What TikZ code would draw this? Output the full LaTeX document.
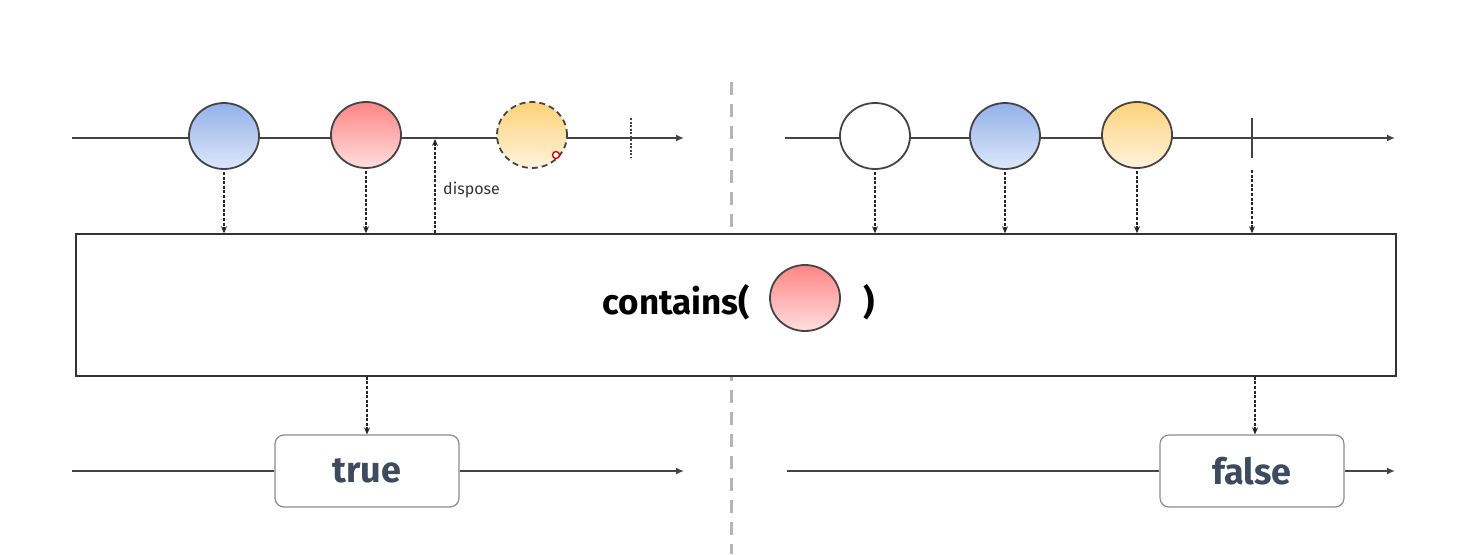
\documentclass[tikz,border=0pt]{standalone}
\usepackage{fontspec}
\setmainfont{Fira Sans}
\usetikzlibrary{shapes.geometric,arrows.meta,calc}
\definecolor{lnc}{HTML}{444444}
\definecolor{blueT}{HTML}{93B1EA}
\definecolor{blueB}{HTML}{DDE7FA}
\definecolor{redT}{HTML}{FF8585}
\definecolor{redB}{HTML}{FFDEDE}
\definecolor{yelT}{HTML}{FFD27A}
\definecolor{yelB}{HTML}{FFF2DC}
\definecolor{txtc}{HTML}{3E4A5E}
\definecolor{divc}{HTML}{B4B4B4}
\tikzset{
  tl/.style={line width=2pt, draw=lnc},
  tla/.style={tl, -{Latex[length=8pt,width=7pt]}},
  marble/.style={ellipse, minimum width=70pt, minimum height=66pt, draw=lnc, line width=1.8pt},
  mblue/.style={marble, top color=blueT, bottom color=blueB},
  mred/.style={marble, top color=redT, bottom color=redB},
  myel/.style={marble, top color=yelT, bottom color=yelB},
  mwhite/.style={marble, fill=white},
  darr/.style={draw=black!85, line width=1.2pt, dash pattern=on 3pt off 1.6pt, -{Stealth[length=7pt,width=6pt]}},
  resbox/.style={draw=black!45, line width=1.2pt, rounded corners=9pt, fill=white, minimum width=184pt, minimum height=72pt, inner sep=0pt, font=\fontsize{36}{40}\selectfont\bfseries, text=txtc},
}
\begin{document}
\begin{tikzpicture}[x=1pt,y=-1pt]
\useasboundingbox (0,0) rectangle (1471,554);
% divider
\coordinate (dv1) at (731,82);
\coordinate (dv2) at (731,554);
\draw[divc, line width=3pt, dash pattern=on 13pt off 9pt] (dv1) -- (dv2);
% big box
\node[draw=black!80, line width=1.5pt, fill=white, minimum width=1320pt, minimum height=142pt, inner sep=0pt] (box) at (736,305) {};
\node[font=\fontsize{35}{40}\selectfont\bfseries, anchor=east, inner sep=0pt] (ctxt) at (750,302) {contains(};
\node[mred] (cr) at (805,298) {};
\node[font=\fontsize{35}{40}\selectfont\bfseries, inner sep=0pt] (cpar) at (869,302) {)};
% top-left timeline
\coordinate (l1s) at (72,138);
\coordinate (l1e) at (684,138);
\draw[tla] (l1s) -- (l1e);
\node[mblue] (a1) at (224,136) {};
\node[mred] (a2) at (366,135) {};
\node[marble, top color=yelT, bottom color=yelB, dashed, dash pattern=on 6pt off 4pt] (a3) at (532,135) {};
\node[circle, draw=red!85!black, line width=1.4pt, minimum size=7pt, inner sep=0pt, fill=white] (cur) at (556,155) {};
\coordinate (tk1) at (631,118);
\coordinate (tk2) at (631,158);
\draw[lnc, line width=1.3pt, dash pattern=on 2pt off 1.5pt] (tk1) -- (tk2);
\draw[darr] ([yshift=-2pt]a1.south) -- (a1.south |- box.north);
\draw[darr] ([yshift=-2pt]a2.south) -- (a2.south |- box.north);
\coordinate (dsp) at (435,233);
\coordinate (dspt) at (435,139);
\draw[darr] (dsp) -- (dspt);
\node[font=\fontsize{16}{18}\selectfont, text=black!80, anchor=west, inner sep=0pt] (dtxt) at (443,190) {dispose};
% top-right timeline
\coordinate (r1s) at (785,138);
\coordinate (r1e) at (1395,138);
\draw[tla] (r1s) -- (r1e);
\node[mwhite] (b1) at (875,136) {};
\node[mblue] (b2) at (1005,136) {};
\node[myel] (b3) at (1137,135) {};
\coordinate (ct1) at (1252,118);
\coordinate (ct2) at (1252,158);
\draw[lnc, line width=2pt] (ct1) -- (ct2);
\draw[darr] ([yshift=-2pt]b1.south) -- (b1.south |- box.north);
\draw[darr] ([yshift=-2pt]b2.south) -- (b2.south |- box.north);
\draw[darr] ([yshift=-2pt]b3.south) -- (b3.south |- box.north);
\coordinate (ct3) at (1252,170);
\draw[darr] (ct3) -- (ct3 |- box.north);
% bottom-left
\coordinate (l2s) at (72,471);
\coordinate (l2e) at (684,471);
\node[resbox] (t) at (367,471) {true};
\draw[tl] (l2s) -- (t.west);
\draw[tla] (t.east) -- (l2e);
\draw[darr] (t.north |- box.south) -- (t.north);
% bottom-right
\coordinate (r2s) at (787,471);
\coordinate (r2e) at (1395,471);
\node[resbox] (f) at (1252,471) {false};
\draw[tl] (r2s) -- (f.west);
\draw[tla] (f.east) -- (r2e);
\draw[darr] ([xshift=3pt]f.north |- box.south) -- ([xshift=3pt]f.north);
\end{tikzpicture}
\end{document}
